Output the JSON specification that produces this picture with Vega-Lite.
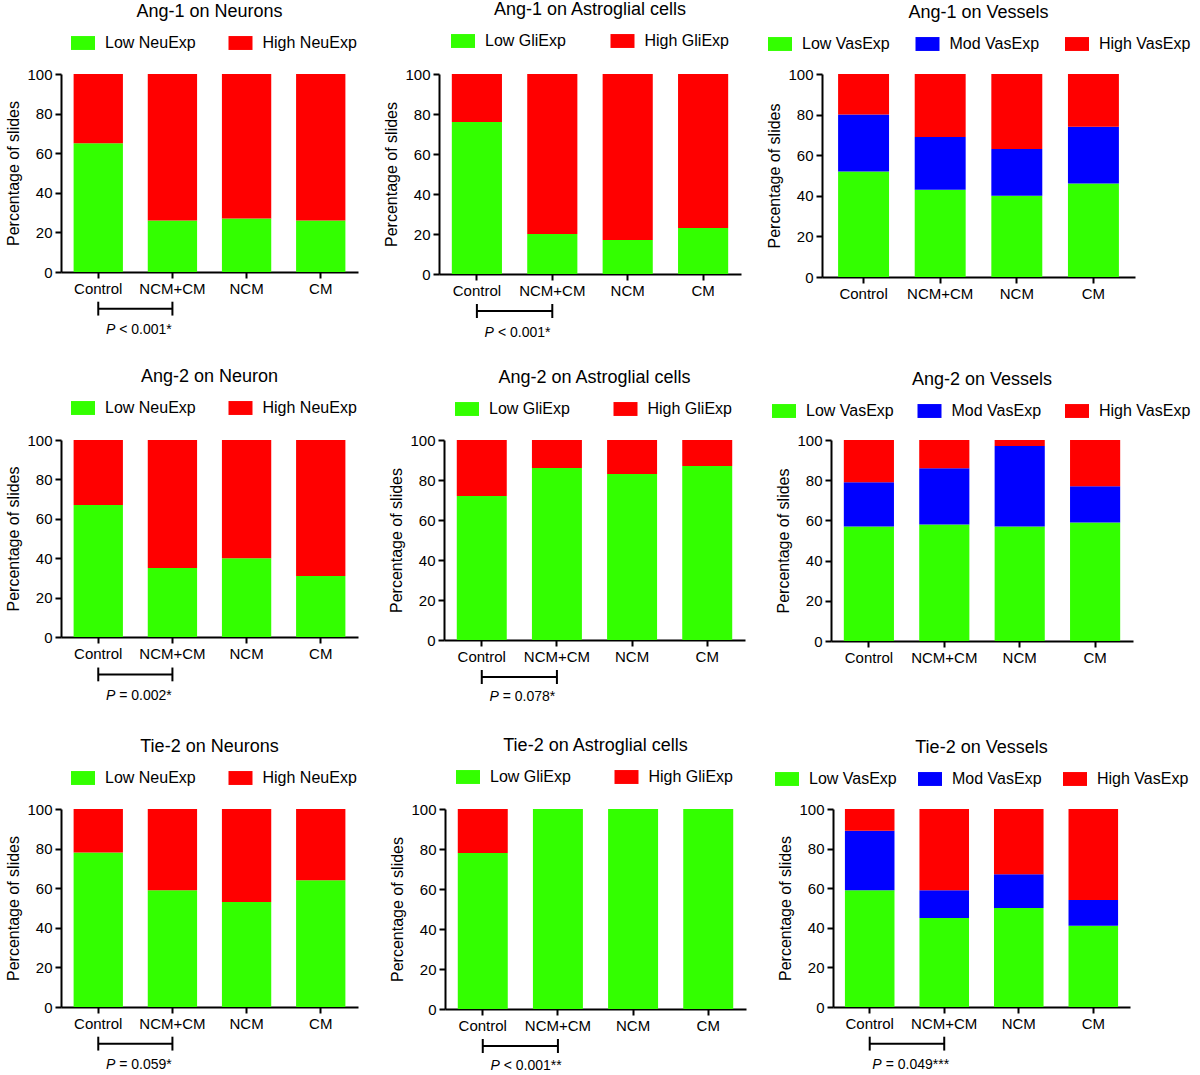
{
  "$schema": "https://vega.github.io/schema/vega-lite/v6.json",
  "padding": {"left": 5, "top": 1, "right": 0, "bottom": 0},
  "background": "white",
  "config": {
    "font": "Liberation Sans",
    "view": {"stroke": null},
    "axis": {"domainColor": "black", "domainWidth": 2, "tickColor": "black", "tickWidth": 2, "tickSize": 6, "labelColor": "black", "labelFontSize": 15, "labelFont": "Liberation Sans", "titleFont": "Liberation Sans", "titleFontSize": 16, "titleFontWeight": "normal", "titleColor": "black", "grid": false, "labelPadding": 3},
    "axisX": {"labelAngle": 0},
    "axisY": {"titlePadding": 5},
    "legend": {"orient": "none", "direction": "horizontal", "symbolType": "M-1,-0.58H1V0.58H-1Z", "symbolSize": 576, "symbolStrokeWidth": 0, "symbolOpacity": 1, "labelFontSize": 16, "labelFont": "Liberation Sans", "labelColor": "black", "labelOffset": 10, "padding": 0},
    "title": {"font": "Liberation Sans", "fontSize": 18, "fontWeight": "normal", "color": "black", "anchor": "middle", "offset": 10},
    "bar": {"strokeWidth": 0}
  },
  "spacing": 28,
  "resolve": {"scale": {"color": "independent", "x": "independent", "y": "independent"}, "legend": {"color": "independent"}},
  "vconcat": [
    {
      "hconcat": [
        {
          "width": 297, "height": 198, "title": "Ang-1 on Neurons",
          "layer": [
            {
              "data": {"values": [
                {"group": "Control", "level": "Low NeuExp", "pct": 65, "rank": 1},
                {"group": "NCM+CM", "level": "Low NeuExp", "pct": 26, "rank": 1},
                {"group": "NCM", "level": "Low NeuExp", "pct": 27, "rank": 1},
                {"group": "CM", "level": "Low NeuExp", "pct": 26, "rank": 1},
                {"group": "Control", "level": "High NeuExp", "pct": 35, "rank": 3},
                {"group": "NCM+CM", "level": "High NeuExp", "pct": 74, "rank": 3},
                {"group": "NCM", "level": "High NeuExp", "pct": 73, "rank": 3},
                {"group": "CM", "level": "High NeuExp", "pct": 74, "rank": 3}
              ]},
              "mark": {"type": "bar"},
              "encoding": {
                "x": {"field": "group", "type": "nominal", "scale": {"domain": ["Control", "NCM+CM", "NCM", "CM"], "paddingInner": 0.335, "paddingOuter": 0.17}, "axis": {"title": null}},
                "y": {"field": "pct", "type": "quantitative", "stack": "zero", "scale": {"domain": [0, 100]}, "axis": {"title": "Percentage of slides", "values": [0, 20, 40, 60, 80, 100]}},
                "color": {"field": "level", "type": "nominal", "scale": {"domain": ["Low NeuExp", "High NeuExp"], "range": ["#33ff00", "#ff0000"]}, "legend": {"title": null, "legendX": 10, "legendY": -43, "columnPadding": 32.5}},
                "order": {"field": "rank", "type": "quantitative"}
              }
            },
            {
              "data": {"values": [{"from": "Control", "to": "NCM+CM", "p": "P", "rest": "< 0.001*"}]},
              "encoding": {"x": {"field": "from", "type": "nominal", "scale": {"domain": ["Control", "NCM+CM", "NCM", "CM"]}, "axis": {"title": null}}},
              "layer": [
                {"mark": {"type": "rule", "color": "black", "strokeWidth": 2}, "encoding": {"x2": {"field": "to"}, "y": {"datum": -18.5, "type": "quantitative", "scale": {"domain": [0, 100]}, "axis": {"title": "Percentage of slides", "values": [0, 20, 40, 60, 80, 100]}}}},
                {"mark": {"type": "rule", "color": "black", "strokeWidth": 2}, "encoding": {"y": {"datum": -15, "type": "quantitative", "scale": {"domain": [0, 100]}, "axis": {"title": "Percentage of slides", "values": [0, 20, 40, 60, 80, 100]}}, "y2": {"datum": -22}}},
                {"mark": {"type": "rule", "color": "black", "strokeWidth": 2}, "encoding": {"x": {"field": "to", "type": "nominal", "axis": {"title": null}}, "y": {"datum": -15, "type": "quantitative", "scale": {"domain": [0, 100]}, "axis": {"title": "Percentage of slides", "values": [0, 20, 40, 60, 80, 100]}}, "y2": {"datum": -22}}},
                {"mark": {"type": "text", "align": "right", "baseline": "middle", "fontStyle": "italic", "fontSize": 14, "dx": 17, "color": "black"}, "encoding": {"y": {"datum": -29.5, "type": "quantitative", "scale": {"domain": [0, 100]}, "axis": {"title": "Percentage of slides", "values": [0, 20, 40, 60, 80, 100]}}, "text": {"field": "p"}}},
                {"mark": {"type": "text", "align": "left", "baseline": "middle", "fontSize": 14, "dx": 21, "color": "black"}, "encoding": {"y": {"datum": -29.5, "type": "quantitative", "scale": {"domain": [0, 100]}, "axis": {"title": "Percentage of slides", "values": [0, 20, 40, 60, 80, 100]}}, "text": {"field": "rest"}}}
              ]
            }
          ]
        },
        {
          "width": 302, "height": 200, "title": "Ang-1 on Astroglial cells",
          "layer": [
            {
              "data": {"values": [
                {"group": "Control", "level": "Low GliExp", "pct": 76, "rank": 1},
                {"group": "NCM+CM", "level": "Low GliExp", "pct": 20, "rank": 1},
                {"group": "NCM", "level": "Low GliExp", "pct": 17, "rank": 1},
                {"group": "CM", "level": "Low GliExp", "pct": 23, "rank": 1},
                {"group": "Control", "level": "High GliExp", "pct": 24, "rank": 3},
                {"group": "NCM+CM", "level": "High GliExp", "pct": 80, "rank": 3},
                {"group": "NCM", "level": "High GliExp", "pct": 83, "rank": 3},
                {"group": "CM", "level": "High GliExp", "pct": 77, "rank": 3}
              ]},
              "mark": {"type": "bar"},
              "encoding": {
                "x": {"field": "group", "type": "nominal", "scale": {"domain": ["Control", "NCM+CM", "NCM", "CM"], "paddingInner": 0.335, "paddingOuter": 0.17}, "axis": {"title": null}},
                "y": {"field": "pct", "type": "quantitative", "stack": "zero", "scale": {"domain": [0, 100]}, "axis": {"title": "Percentage of slides", "values": [0, 20, 40, 60, 80, 100]}},
                "color": {"field": "level", "type": "nominal", "scale": {"domain": ["Low GliExp", "High GliExp"], "range": ["#33ff00", "#ff0000"]}, "legend": {"title": null, "legendX": 12, "legendY": -45, "columnPadding": 44.5}},
                "order": {"field": "rank", "type": "quantitative"}
              }
            },
            {
              "data": {"values": [{"from": "Control", "to": "NCM+CM", "p": "P", "rest": "< 0.001*"}]},
              "encoding": {"x": {"field": "from", "type": "nominal", "scale": {"domain": ["Control", "NCM+CM", "NCM", "CM"]}, "axis": {"title": null}}},
              "layer": [
                {"mark": {"type": "rule", "color": "black", "strokeWidth": 2}, "encoding": {"x2": {"field": "to"}, "y": {"datum": -18.5, "type": "quantitative", "scale": {"domain": [0, 100]}, "axis": {"title": "Percentage of slides", "values": [0, 20, 40, 60, 80, 100]}}}},
                {"mark": {"type": "rule", "color": "black", "strokeWidth": 2}, "encoding": {"y": {"datum": -15, "type": "quantitative", "scale": {"domain": [0, 100]}, "axis": {"title": "Percentage of slides", "values": [0, 20, 40, 60, 80, 100]}}, "y2": {"datum": -22}}},
                {"mark": {"type": "rule", "color": "black", "strokeWidth": 2}, "encoding": {"x": {"field": "to", "type": "nominal", "axis": {"title": null}}, "y": {"datum": -15, "type": "quantitative", "scale": {"domain": [0, 100]}, "axis": {"title": "Percentage of slides", "values": [0, 20, 40, 60, 80, 100]}}, "y2": {"datum": -22}}},
                {"mark": {"type": "text", "align": "right", "baseline": "middle", "fontStyle": "italic", "fontSize": 14, "dx": 17, "color": "black"}, "encoding": {"y": {"datum": -29.5, "type": "quantitative", "scale": {"domain": [0, 100]}, "axis": {"title": "Percentage of slides", "values": [0, 20, 40, 60, 80, 100]}}, "text": {"field": "p"}}},
                {"mark": {"type": "text", "align": "left", "baseline": "middle", "fontSize": 14, "dx": 21, "color": "black"}, "encoding": {"y": {"datum": -29.5, "type": "quantitative", "scale": {"domain": [0, 100]}, "axis": {"title": "Percentage of slides", "values": [0, 20, 40, 60, 80, 100]}}, "text": {"field": "rest"}}}
              ]
            }
          ]
        },
        {
          "width": 313, "height": 203, "title": "Ang-1 on Vessels",
          "data": {"values": [
            {"group": "Control", "level": "Low VasExp", "pct": 52, "rank": 1},
            {"group": "NCM+CM", "level": "Low VasExp", "pct": 43, "rank": 1},
            {"group": "NCM", "level": "Low VasExp", "pct": 40, "rank": 1},
            {"group": "CM", "level": "Low VasExp", "pct": 46, "rank": 1},
            {"group": "Control", "level": "Mod VasExp", "pct": 28, "rank": 2},
            {"group": "NCM+CM", "level": "Mod VasExp", "pct": 26, "rank": 2},
            {"group": "NCM", "level": "Mod VasExp", "pct": 23, "rank": 2},
            {"group": "CM", "level": "Mod VasExp", "pct": 28, "rank": 2},
            {"group": "Control", "level": "High VasExp", "pct": 20, "rank": 3},
            {"group": "NCM+CM", "level": "High VasExp", "pct": 31, "rank": 3},
            {"group": "NCM", "level": "High VasExp", "pct": 37, "rank": 3},
            {"group": "CM", "level": "High VasExp", "pct": 26, "rank": 3}
          ]},
          "mark": {"type": "bar"},
          "encoding": {
            "x": {"field": "group", "type": "nominal", "scale": {"domain": ["Control", "NCM+CM", "NCM", "CM"], "paddingInner": 0.335, "paddingOuter": 0.21}, "axis": {"title": null}},
            "y": {"field": "pct", "type": "quantitative", "stack": "zero", "scale": {"domain": [0, 100]}, "axis": {"title": "Percentage of slides", "values": [0, 20, 40, 60, 80, 100]}},
            "color": {"field": "level", "type": "nominal", "scale": {"domain": ["Low VasExp", "Mod VasExp", "High VasExp"], "range": ["#33ff00", "#0000ff", "#ff0000"]}, "legend": {"title": null, "legendX": -54, "legendY": -42, "columnPadding": 25.5}},
            "order": {"field": "rank", "type": "quantitative"}
          }
        }
      ],
      "spacing": 81, "bounds": "flush",
      "resolve": {"scale": {"color": "independent", "x": "independent", "y": "independent"}, "legend": {"color": "independent"}}
    },
    {
      "spacing": 33,
      "resolve": {"scale": {"color": "independent", "x": "independent", "y": "independent"}, "legend": {"color": "independent"}},
      "vconcat": [
        {
          "hconcat": [
            {
              "width": 297, "height": 197, "title": "Ang-2 on Neuron",
              "layer": [
                {
                  "data": {"values": [
                    {"group": "Control", "level": "Low NeuExp", "pct": 67, "rank": 1},
                    {"group": "NCM+CM", "level": "Low NeuExp", "pct": 35, "rank": 1},
                    {"group": "NCM", "level": "Low NeuExp", "pct": 40, "rank": 1},
                    {"group": "CM", "level": "Low NeuExp", "pct": 31, "rank": 1},
                    {"group": "Control", "level": "High NeuExp", "pct": 33, "rank": 3},
                    {"group": "NCM+CM", "level": "High NeuExp", "pct": 65, "rank": 3},
                    {"group": "NCM", "level": "High NeuExp", "pct": 60, "rank": 3},
                    {"group": "CM", "level": "High NeuExp", "pct": 69, "rank": 3}
                  ]},
                  "mark": {"type": "bar"},
                  "encoding": {
                    "x": {"field": "group", "type": "nominal", "scale": {"domain": ["Control", "NCM+CM", "NCM", "CM"], "paddingInner": 0.335, "paddingOuter": 0.17}, "axis": {"title": null}},
                    "y": {"field": "pct", "type": "quantitative", "stack": "zero", "scale": {"domain": [0, 100]}, "axis": {"title": "Percentage of slides", "values": [0, 20, 40, 60, 80, 100]}},
                    "color": {"field": "level", "type": "nominal", "scale": {"domain": ["Low NeuExp", "High NeuExp"], "range": ["#33ff00", "#ff0000"]}, "legend": {"title": null, "legendX": 10, "legendY": -44, "columnPadding": 32.5}},
                    "order": {"field": "rank", "type": "quantitative"}
                  }
                },
                {
                  "data": {"values": [{"from": "Control", "to": "NCM+CM", "p": "P", "rest": "= 0.002*"}]},
                  "encoding": {"x": {"field": "from", "type": "nominal", "scale": {"domain": ["Control", "NCM+CM", "NCM", "CM"]}, "axis": {"title": null}}},
                  "layer": [
                    {"mark": {"type": "rule", "color": "black", "strokeWidth": 2}, "encoding": {"x2": {"field": "to"}, "y": {"datum": -19, "type": "quantitative", "scale": {"domain": [0, 100]}, "axis": {"title": "Percentage of slides", "values": [0, 20, 40, 60, 80, 100]}}}},
                    {"mark": {"type": "rule", "color": "black", "strokeWidth": 2}, "encoding": {"y": {"datum": -15.5, "type": "quantitative", "scale": {"domain": [0, 100]}, "axis": {"title": "Percentage of slides", "values": [0, 20, 40, 60, 80, 100]}}, "y2": {"datum": -22.5}}},
                    {"mark": {"type": "rule", "color": "black", "strokeWidth": 2}, "encoding": {"x": {"field": "to", "type": "nominal", "axis": {"title": null}}, "y": {"datum": -15.5, "type": "quantitative", "scale": {"domain": [0, 100]}, "axis": {"title": "Percentage of slides", "values": [0, 20, 40, 60, 80, 100]}}, "y2": {"datum": -22.5}}},
                    {"mark": {"type": "text", "align": "right", "baseline": "middle", "fontStyle": "italic", "fontSize": 14, "dx": 17, "color": "black"}, "encoding": {"y": {"datum": -30, "type": "quantitative", "scale": {"domain": [0, 100]}, "axis": {"title": "Percentage of slides", "values": [0, 20, 40, 60, 80, 100]}}, "text": {"field": "p"}}},
                    {"mark": {"type": "text", "align": "left", "baseline": "middle", "fontSize": 14, "dx": 21, "color": "black"}, "encoding": {"y": {"datum": -30, "type": "quantitative", "scale": {"domain": [0, 100]}, "axis": {"title": "Percentage of slides", "values": [0, 20, 40, 60, 80, 100]}}, "text": {"field": "rest"}}}
                  ]
                }
              ]
            },
            {
              "width": 301, "height": 200, "title": "Ang-2 on Astroglial cells",
              "layer": [
                {
                  "data": {"values": [
                    {"group": "Control", "level": "Low GliExp", "pct": 72, "rank": 1},
                    {"group": "NCM+CM", "level": "Low GliExp", "pct": 86, "rank": 1},
                    {"group": "NCM", "level": "Low GliExp", "pct": 83, "rank": 1},
                    {"group": "CM", "level": "Low GliExp", "pct": 87, "rank": 1},
                    {"group": "Control", "level": "High GliExp", "pct": 28, "rank": 3},
                    {"group": "NCM+CM", "level": "High GliExp", "pct": 14, "rank": 3},
                    {"group": "NCM", "level": "High GliExp", "pct": 17, "rank": 3},
                    {"group": "CM", "level": "High GliExp", "pct": 13, "rank": 3}
                  ]},
                  "mark": {"type": "bar"},
                  "encoding": {
                    "x": {"field": "group", "type": "nominal", "scale": {"domain": ["Control", "NCM+CM", "NCM", "CM"], "paddingInner": 0.335, "paddingOuter": 0.17}, "axis": {"title": null}},
                    "y": {"field": "pct", "type": "quantitative", "stack": "zero", "scale": {"domain": [0, 100]}, "axis": {"title": "Percentage of slides", "values": [0, 20, 40, 60, 80, 100]}},
                    "color": {"field": "level", "type": "nominal", "scale": {"domain": ["Low GliExp", "High GliExp"], "range": ["#33ff00", "#ff0000"]}, "legend": {"title": null, "legendX": 11, "legendY": -43, "columnPadding": 43.5}},
                    "order": {"field": "rank", "type": "quantitative"}
                  }
                },
                {
                  "data": {"values": [{"from": "Control", "to": "NCM+CM", "p": "P", "rest": "= 0.078*"}]},
                  "encoding": {"x": {"field": "from", "type": "nominal", "scale": {"domain": ["Control", "NCM+CM", "NCM", "CM"]}, "axis": {"title": null}}},
                  "layer": [
                    {"mark": {"type": "rule", "color": "black", "strokeWidth": 2}, "encoding": {"x2": {"field": "to"}, "y": {"datum": -18.5, "type": "quantitative", "scale": {"domain": [0, 100]}, "axis": {"title": "Percentage of slides", "values": [0, 20, 40, 60, 80, 100]}}}},
                    {"mark": {"type": "rule", "color": "black", "strokeWidth": 2}, "encoding": {"y": {"datum": -15, "type": "quantitative", "scale": {"domain": [0, 100]}, "axis": {"title": "Percentage of slides", "values": [0, 20, 40, 60, 80, 100]}}, "y2": {"datum": -22}}},
                    {"mark": {"type": "rule", "color": "black", "strokeWidth": 2}, "encoding": {"x": {"field": "to", "type": "nominal", "axis": {"title": null}}, "y": {"datum": -15, "type": "quantitative", "scale": {"domain": [0, 100]}, "axis": {"title": "Percentage of slides", "values": [0, 20, 40, 60, 80, 100]}}, "y2": {"datum": -22}}},
                    {"mark": {"type": "text", "align": "right", "baseline": "middle", "fontStyle": "italic", "fontSize": 14, "dx": 17, "color": "black"}, "encoding": {"y": {"datum": -28.5, "type": "quantitative", "scale": {"domain": [0, 100]}, "axis": {"title": "Percentage of slides", "values": [0, 20, 40, 60, 80, 100]}}, "text": {"field": "p"}}},
                    {"mark": {"type": "text", "align": "left", "baseline": "middle", "fontSize": 14, "dx": 21, "color": "black"}, "encoding": {"y": {"datum": -28.5, "type": "quantitative", "scale": {"domain": [0, 100]}, "axis": {"title": "Percentage of slides", "values": [0, 20, 40, 60, 80, 100]}}, "text": {"field": "rest"}}}
                  ]
                }
              ]
            },
            {
              "width": 302, "height": 201, "title": "Ang-2 on Vessels",
              "data": {"values": [
                {"group": "Control", "level": "Low VasExp", "pct": 57, "rank": 1},
                {"group": "NCM+CM", "level": "Low VasExp", "pct": 58, "rank": 1},
                {"group": "NCM", "level": "Low VasExp", "pct": 57, "rank": 1},
                {"group": "CM", "level": "Low VasExp", "pct": 59, "rank": 1},
                {"group": "Control", "level": "Mod VasExp", "pct": 22, "rank": 2},
                {"group": "NCM+CM", "level": "Mod VasExp", "pct": 28, "rank": 2},
                {"group": "NCM", "level": "Mod VasExp", "pct": 40, "rank": 2},
                {"group": "CM", "level": "Mod VasExp", "pct": 18, "rank": 2},
                {"group": "Control", "level": "High VasExp", "pct": 21, "rank": 3},
                {"group": "NCM+CM", "level": "High VasExp", "pct": 14, "rank": 3},
                {"group": "NCM", "level": "High VasExp", "pct": 3, "rank": 3},
                {"group": "CM", "level": "High VasExp", "pct": 23, "rank": 3}
              ]},
              "mark": {"type": "bar"},
              "encoding": {
                "x": {"field": "group", "type": "nominal", "scale": {"domain": ["Control", "NCM+CM", "NCM", "CM"], "paddingInner": 0.335, "paddingOuter": 0.17}, "axis": {"title": null}},
                "y": {"field": "pct", "type": "quantitative", "stack": "zero", "scale": {"domain": [0, 100]}, "axis": {"title": "Percentage of slides", "values": [0, 20, 40, 60, 80, 100]}},
                "color": {"field": "level", "type": "nominal", "scale": {"domain": ["Low VasExp", "Mod VasExp", "High VasExp"], "range": ["#33ff00", "#0000ff", "#ff0000"]}, "legend": {"title": null, "legendX": -59, "legendY": -41, "columnPadding": 23.5}},
                "order": {"field": "rank", "type": "quantitative"}
              }
            }
          ],
          "spacing": 86, "bounds": "flush",
          "resolve": {"scale": {"color": "independent", "x": "independent", "y": "independent"}, "legend": {"color": "independent"}}
        },
        {
          "hconcat": [
            {
              "width": 297, "height": 198, "title": "Tie-2 on Neurons",
              "layer": [
                {
                  "data": {"values": [
                    {"group": "Control", "level": "Low NeuExp", "pct": 78, "rank": 1},
                    {"group": "NCM+CM", "level": "Low NeuExp", "pct": 59, "rank": 1},
                    {"group": "NCM", "level": "Low NeuExp", "pct": 53, "rank": 1},
                    {"group": "CM", "level": "Low NeuExp", "pct": 64, "rank": 1},
                    {"group": "Control", "level": "High NeuExp", "pct": 22, "rank": 3},
                    {"group": "NCM+CM", "level": "High NeuExp", "pct": 41, "rank": 3},
                    {"group": "NCM", "level": "High NeuExp", "pct": 47, "rank": 3},
                    {"group": "CM", "level": "High NeuExp", "pct": 36, "rank": 3}
                  ]},
                  "mark": {"type": "bar"},
                  "encoding": {
                    "x": {"field": "group", "type": "nominal", "scale": {"domain": ["Control", "NCM+CM", "NCM", "CM"], "paddingInner": 0.335, "paddingOuter": 0.17}, "axis": {"title": null}},
                    "y": {"field": "pct", "type": "quantitative", "stack": "zero", "scale": {"domain": [0, 100]}, "axis": {"title": "Percentage of slides", "values": [0, 20, 40, 60, 80, 100]}},
                    "color": {"field": "level", "type": "nominal", "scale": {"domain": ["Low NeuExp", "High NeuExp"], "range": ["#33ff00", "#ff0000"]}, "legend": {"title": null, "legendX": 10, "legendY": -43, "columnPadding": 32.5}},
                    "order": {"field": "rank", "type": "quantitative"}
                  }
                },
                {
                  "data": {"values": [{"from": "Control", "to": "NCM+CM", "p": "P", "rest": "= 0.059*"}]},
                  "encoding": {"x": {"field": "from", "type": "nominal", "scale": {"domain": ["Control", "NCM+CM", "NCM", "CM"]}, "axis": {"title": null}}},
                  "layer": [
                    {"mark": {"type": "rule", "color": "black", "strokeWidth": 2}, "encoding": {"x2": {"field": "to"}, "y": {"datum": -18.5, "type": "quantitative", "scale": {"domain": [0, 100]}, "axis": {"title": "Percentage of slides", "values": [0, 20, 40, 60, 80, 100]}}}},
                    {"mark": {"type": "rule", "color": "black", "strokeWidth": 2}, "encoding": {"y": {"datum": -15, "type": "quantitative", "scale": {"domain": [0, 100]}, "axis": {"title": "Percentage of slides", "values": [0, 20, 40, 60, 80, 100]}}, "y2": {"datum": -22}}},
                    {"mark": {"type": "rule", "color": "black", "strokeWidth": 2}, "encoding": {"x": {"field": "to", "type": "nominal", "axis": {"title": null}}, "y": {"datum": -15, "type": "quantitative", "scale": {"domain": [0, 100]}, "axis": {"title": "Percentage of slides", "values": [0, 20, 40, 60, 80, 100]}}, "y2": {"datum": -22}}},
                    {"mark": {"type": "text", "align": "right", "baseline": "middle", "fontStyle": "italic", "fontSize": 14, "dx": 17, "color": "black"}, "encoding": {"y": {"datum": -29.5, "type": "quantitative", "scale": {"domain": [0, 100]}, "axis": {"title": "Percentage of slides", "values": [0, 20, 40, 60, 80, 100]}}, "text": {"field": "p"}}},
                    {"mark": {"type": "text", "align": "left", "baseline": "middle", "fontSize": 14, "dx": 21, "color": "black"}, "encoding": {"y": {"datum": -29.5, "type": "quantitative", "scale": {"domain": [0, 100]}, "axis": {"title": "Percentage of slides", "values": [0, 20, 40, 60, 80, 100]}}, "text": {"field": "rest"}}}
                  ]
                }
              ]
            },
            {
              "width": 301, "height": 200, "title": "Tie-2 on Astroglial cells",
              "layer": [
                {
                  "data": {"values": [
                    {"group": "Control", "level": "Low GliExp", "pct": 78, "rank": 1},
                    {"group": "NCM+CM", "level": "Low GliExp", "pct": 100, "rank": 1},
                    {"group": "NCM", "level": "Low GliExp", "pct": 100, "rank": 1},
                    {"group": "CM", "level": "Low GliExp", "pct": 100, "rank": 1},
                    {"group": "Control", "level": "High GliExp", "pct": 22, "rank": 3},
                    {"group": "NCM+CM", "level": "High GliExp", "pct": 0, "rank": 3},
                    {"group": "NCM", "level": "High GliExp", "pct": 0, "rank": 3},
                    {"group": "CM", "level": "High GliExp", "pct": 0, "rank": 3}
                  ]},
                  "mark": {"type": "bar"},
                  "encoding": {
                    "x": {"field": "group", "type": "nominal", "scale": {"domain": ["Control", "NCM+CM", "NCM", "CM"], "paddingInner": 0.335, "paddingOuter": 0.17}, "axis": {"title": null}},
                    "y": {"field": "pct", "type": "quantitative", "stack": "zero", "scale": {"domain": [0, 100]}, "axis": {"title": "Percentage of slides", "values": [0, 20, 40, 60, 80, 100]}},
                    "color": {"field": "level", "type": "nominal", "scale": {"domain": ["Low GliExp", "High GliExp"], "range": ["#33ff00", "#ff0000"]}, "legend": {"title": null, "legendX": 11, "legendY": -44, "columnPadding": 43.5}},
                    "order": {"field": "rank", "type": "quantitative"}
                  }
                },
                {
                  "data": {"values": [{"from": "Control", "to": "NCM+CM", "p": "P", "rest": "< 0.001**"}]},
                  "encoding": {"x": {"field": "from", "type": "nominal", "scale": {"domain": ["Control", "NCM+CM", "NCM", "CM"]}, "axis": {"title": null}}},
                  "layer": [
                    {"mark": {"type": "rule", "color": "black", "strokeWidth": 2}, "encoding": {"x2": {"field": "to"}, "y": {"datum": -18.5, "type": "quantitative", "scale": {"domain": [0, 100]}, "axis": {"title": "Percentage of slides", "values": [0, 20, 40, 60, 80, 100]}}}},
                    {"mark": {"type": "rule", "color": "black", "strokeWidth": 2}, "encoding": {"y": {"datum": -15, "type": "quantitative", "scale": {"domain": [0, 100]}, "axis": {"title": "Percentage of slides", "values": [0, 20, 40, 60, 80, 100]}}, "y2": {"datum": -22}}},
                    {"mark": {"type": "rule", "color": "black", "strokeWidth": 2}, "encoding": {"x": {"field": "to", "type": "nominal", "axis": {"title": null}}, "y": {"datum": -15, "type": "quantitative", "scale": {"domain": [0, 100]}, "axis": {"title": "Percentage of slides", "values": [0, 20, 40, 60, 80, 100]}}, "y2": {"datum": -22}}},
                    {"mark": {"type": "text", "align": "right", "baseline": "middle", "fontStyle": "italic", "fontSize": 14, "dx": 17, "color": "black"}, "encoding": {"y": {"datum": -28.5, "type": "quantitative", "scale": {"domain": [0, 100]}, "axis": {"title": "Percentage of slides", "values": [0, 20, 40, 60, 80, 100]}}, "text": {"field": "p"}}},
                    {"mark": {"type": "text", "align": "left", "baseline": "middle", "fontSize": 14, "dx": 21, "color": "black"}, "encoding": {"y": {"datum": -28.5, "type": "quantitative", "scale": {"domain": [0, 100]}, "axis": {"title": "Percentage of slides", "values": [0, 20, 40, 60, 80, 100]}}, "text": {"field": "rest"}}}
                  ]
                }
              ]
            },
            {
              "width": 297, "height": 198, "title": "Tie-2 on Vessels",
              "layer": [
                {
                  "data": {"values": [
                    {"group": "Control", "level": "Low VasExp", "pct": 59, "rank": 1},
                    {"group": "NCM+CM", "level": "Low VasExp", "pct": 45, "rank": 1},
                    {"group": "NCM", "level": "Low VasExp", "pct": 50, "rank": 1},
                    {"group": "CM", "level": "Low VasExp", "pct": 41, "rank": 1},
                    {"group": "Control", "level": "Mod VasExp", "pct": 30, "rank": 2},
                    {"group": "NCM+CM", "level": "Mod VasExp", "pct": 14, "rank": 2},
                    {"group": "NCM", "level": "Mod VasExp", "pct": 17, "rank": 2},
                    {"group": "CM", "level": "Mod VasExp", "pct": 13, "rank": 2},
                    {"group": "Control", "level": "High VasExp", "pct": 11, "rank": 3},
                    {"group": "NCM+CM", "level": "High VasExp", "pct": 41, "rank": 3},
                    {"group": "NCM", "level": "High VasExp", "pct": 33, "rank": 3},
                    {"group": "CM", "level": "High VasExp", "pct": 46, "rank": 3}
                  ]},
                  "mark": {"type": "bar"},
                  "encoding": {
                    "x": {"field": "group", "type": "nominal", "scale": {"domain": ["Control", "NCM+CM", "NCM", "CM"], "paddingInner": 0.335, "paddingOuter": 0.16}, "axis": {"title": null}},
                    "y": {"field": "pct", "type": "quantitative", "stack": "zero", "scale": {"domain": [0, 100]}, "axis": {"title": "Percentage of slides", "values": [0, 20, 40, 60, 80, 100]}},
                    "color": {"field": "level", "type": "nominal", "scale": {"domain": ["Low VasExp", "Mod VasExp", "High VasExp"], "range": ["#33ff00", "#0000ff", "#ff0000"]}, "legend": {"title": null, "legendX": -58, "legendY": -42, "columnPadding": 21}},
                    "order": {"field": "rank", "type": "quantitative"}
                  }
                },
                {
                  "data": {"values": [{"from": "Control", "to": "NCM+CM", "p": "P", "rest": "= 0.049***"}]},
                  "encoding": {"x": {"field": "from", "type": "nominal", "scale": {"domain": ["Control", "NCM+CM", "NCM", "CM"]}, "axis": {"title": null}}},
                  "layer": [
                    {"mark": {"type": "rule", "color": "black", "strokeWidth": 2}, "encoding": {"x2": {"field": "to"}, "y": {"datum": -18.5, "type": "quantitative", "scale": {"domain": [0, 100]}, "axis": {"title": "Percentage of slides", "values": [0, 20, 40, 60, 80, 100]}}}},
                    {"mark": {"type": "rule", "color": "black", "strokeWidth": 2}, "encoding": {"y": {"datum": -15, "type": "quantitative", "scale": {"domain": [0, 100]}, "axis": {"title": "Percentage of slides", "values": [0, 20, 40, 60, 80, 100]}}, "y2": {"datum": -22}}},
                    {"mark": {"type": "rule", "color": "black", "strokeWidth": 2}, "encoding": {"x": {"field": "to", "type": "nominal", "axis": {"title": null}}, "y": {"datum": -15, "type": "quantitative", "scale": {"domain": [0, 100]}, "axis": {"title": "Percentage of slides", "values": [0, 20, 40, 60, 80, 100]}}, "y2": {"datum": -22}}},
                    {"mark": {"type": "text", "align": "right", "baseline": "middle", "fontStyle": "italic", "fontSize": 14, "dx": 12, "color": "black"}, "encoding": {"y": {"datum": -29.5, "type": "quantitative", "scale": {"domain": [0, 100]}, "axis": {"title": "Percentage of slides", "values": [0, 20, 40, 60, 80, 100]}}, "text": {"field": "p"}}},
                    {"mark": {"type": "text", "align": "left", "baseline": "middle", "fontSize": 14, "dx": 16, "color": "black"}, "encoding": {"y": {"datum": -29.5, "type": "quantitative", "scale": {"domain": [0, 100]}, "axis": {"title": "Percentage of slides", "values": [0, 20, 40, 60, 80, 100]}}, "text": {"field": "rest"}}}
                  ]
                }
              ]
            }
          ],
          "spacing": 87, "bounds": "flush",
          "resolve": {"scale": {"color": "independent", "x": "independent", "y": "independent"}, "legend": {"color": "independent"}}
        }
      ]
    }
  ]
}
